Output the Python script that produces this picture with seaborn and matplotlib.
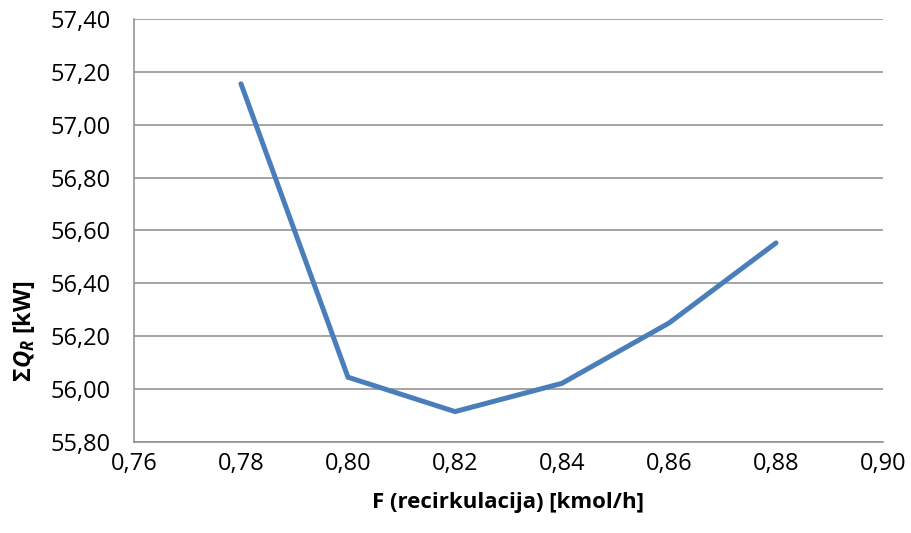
import numpy as np
import pandas as pd
from matplotlib import use
use('agg')
import matplotlib.pyplot as plt
import matplotlib.ticker as mticker
import seaborn as sns

# data
recirculation = [0.78, 0.80, 0.82, 0.84, 0.86, 0.88]
heat_duty = [57.155, 56.045, 55.915, 56.022, 56.25, 56.553]

x_ticks = [0.76, 0.78, 0.80, 0.82, 0.84, 0.86, 0.88, 0.90]
y_ticks = [55.80, 56.00, 56.20, 56.40, 56.60, 56.80, 57.00, 57.20, 57.40]

df = pd.DataFrame({'F': recirculation, 'Q': heat_duty})

sns.set_style('white')
plt.rcParams['font.family'] = ['Open Sans', 'DejaVu Sans']
plt.rcParams['text.color'] = 'black'
plt.rcParams['axes.labelcolor'] = 'black'
plt.rcParams['mathtext.fontset'] = 'custom'
plt.rcParams['mathtext.it'] = 'Open Sans:bold:italic'
plt.rcParams['mathtext.rm'] = 'Open Sans:bold'
plt.rcParams['mathtext.bf'] = 'Open Sans:bold'

fig = plt.figure(figsize=(9.11, 5.33), dpi=100)
ax = fig.add_axes([134/911, 1-442/533, (883-134)/911, (442-19)/533])

sns.lineplot(data=df, x='F', y='Q', ax=ax, color='#4a7ebb', linewidth=3.6,
             solid_capstyle='round', solid_joinstyle='miter')

ax.set_xlim(0.76, 0.90)
ax.set_ylim(55.80, 57.40)
ax.set_xticks(x_ticks)
ax.set_yticks(y_ticks)
comma = lambda v, p: f"{v:.2f}".replace('.', ',')
ax.xaxis.set_major_formatter(mticker.FuncFormatter(comma))
ax.yaxis.set_major_formatter(mticker.FuncFormatter(comma))
ax.tick_params(axis='both', length=0, labelsize=17, colors='black')
ax.tick_params(axis='y', pad=17)
ax.tick_params(axis='x', pad=7)

ax.grid(axis='y', color='#8c8c8c', linewidth=1.1)
ax.grid(axis='x', visible=False)
for s in ['top', 'right']:
    ax.spines[s].set_visible(False)
for s in ['left', 'bottom']:
    ax.spines[s].set_color('#8c8c8c')
    ax.spines[s].set_linewidth(1.1)

ax.set_xlabel('F (recirkulacija) [kmol/h]', fontsize=16, fontweight='bold',
              labelpad=12, color='black')
ax.set_ylabel(r'$\mathit{\Sigma Q}_\mathit{R}$ [kW]', fontsize=17, fontweight='bold',
              color='black')
ax.yaxis.set_label_coords(-0.13, 0.262)

plt.savefig('out.png', dpi=100)
